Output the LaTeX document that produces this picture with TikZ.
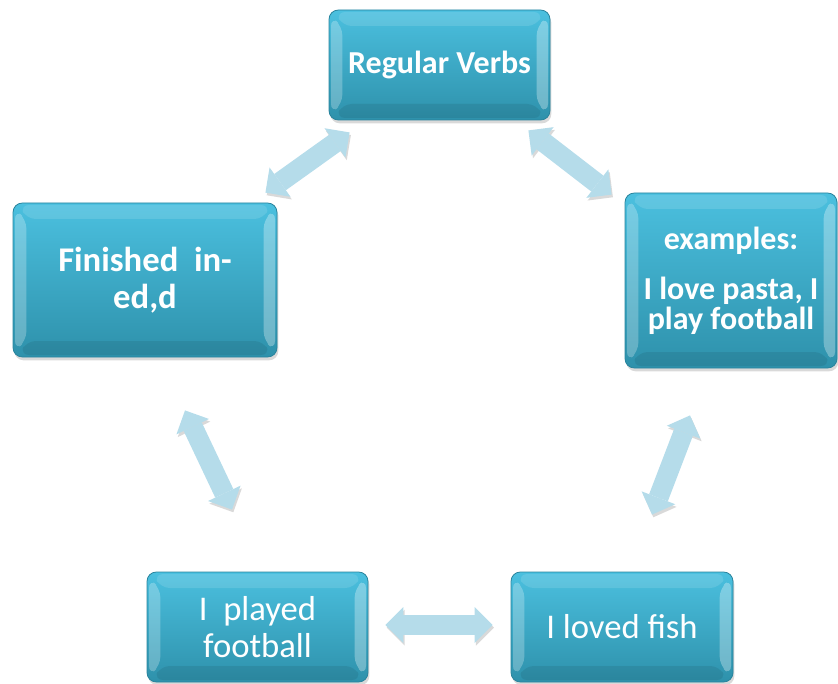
\documentclass[tikz,border=0pt]{standalone}
\usepackage{fontspec}
\setmainfont{Carlito}
\usepackage{tikz}
\usetikzlibrary{arrows.meta,calc,shadows}
\definecolor{boxtop}{HTML}{4BC0DF}
\definecolor{boxbot}{HTML}{2E91AB}
\definecolor{boxline}{HTML}{2A849D}
\definecolor{arrowfill}{HTML}{B5DCEA}
\begin{document}
\begin{tikzpicture}[x=0.75pt, y=-0.75pt,
      box/.style={rounded corners=7pt, draw=boxline, line width=0.6pt, top color=boxtop, bottom color=boxbot,
        text=white, align=center, inner sep=0pt,
        drop shadow={opacity=0.3, shadow xshift=1pt, shadow yshift=-2.5pt},
        path picture={
          \fill[white, opacity=0.25] ([shift={(1.5pt,-5pt)}]path picture bounding box.north west)
            -- ([shift={(10pt,-12pt)}]path picture bounding box.north west)
            -- ([shift={(10pt,12pt)}]path picture bounding box.south west)
            -- ([shift={(1.5pt,5pt)}]path picture bounding box.south west) -- cycle;
          \fill[white, opacity=0.3] ([shift={(-1.5pt,-5pt)}]path picture bounding box.north east)
            -- ([shift={(-10pt,-12pt)}]path picture bounding box.north east)
            -- ([shift={(-10pt,12pt)}]path picture bounding box.south east)
            -- ([shift={(-1.5pt,5pt)}]path picture bounding box.south east) -- cycle;
          \fill[white, opacity=0.12] ([shift={(5pt,-1.5pt)}]path picture bounding box.north west)
            -- ([shift={(-5pt,-1.5pt)}]path picture bounding box.north east)
            -- ([shift={(-10pt,-12pt)}]path picture bounding box.north east)
            -- ([shift={(10pt,-12pt)}]path picture bounding box.north west) -- cycle;
          \fill[black, opacity=0.08] ([shift={(5pt,1.5pt)}]path picture bounding box.south west)
            -- ([shift={(-5pt,1.5pt)}]path picture bounding box.south east)
            -- ([shift={(-10pt,12pt)}]path picture bounding box.south east)
            -- ([shift={(10pt,12pt)}]path picture bounding box.south west) -- cycle;
        }},
      plain/.style={box, font=\fontsize{26}{28}\selectfont},
      link/.style={draw=arrowfill, line width=15pt,
        {Triangle[width=27pt, length=13.5pt, line width=0pt]}-{Triangle[width=27pt, length=13.5pt, line width=0pt]},
        preaction={draw=black!15, transform canvas={xshift=1pt, yshift=-2pt}}}]
      \useasboundingbox (0,0) rectangle (838,684);
      \node[box, font=\bfseries\fontsize{24}{27}\selectfont, minimum width=165.75pt, minimum height=82.5pt]
            (rv) at (439.5,65) {Regular Verbs};
      \node[box, font=\bfseries\fontsize{26}{28}\selectfont, minimum width=198pt, minimum height=115.5pt]
            (fin) at (145,280) {Finished~ in-\\ed,d};
      \node[box, font=\bfseries\fontsize{24}{22.5}\selectfont, minimum width=159pt, minimum height=131.25pt]
            (ex) at (731,280.5) {examples:\\[15pt]I love pasta, I\\play football};
      \node[plain, minimum width=165.75pt, minimum height=82.5pt] (pf) at (257.5,627) {I~ played\\football};
      \node[plain, minimum width=166.5pt, minimum height=82.5pt] (lf) at (622,627) {I loved fish};
      \draw[link] ($(rv.south west)+(21,12)$) -- ($(fin.north east)+(-12,-10)$);
      \draw[link] ($(rv.south east)+(-22,10)$) -- ($(ex.north west)+(-13,2)$);
      \draw[link] ($(fin.south)+(40,53)$) -- ($(pf.north)+(-25.5,-62)$);
      \draw[link] ($(ex.south)+(-41,47)$) -- ($(lf.north)+(30,-57)$);
      \draw[link] ($(pf.east)+(17,-2)$) -- ($(lf.west)+(-18,-2)$);
    \end{tikzpicture}
\end{document}
